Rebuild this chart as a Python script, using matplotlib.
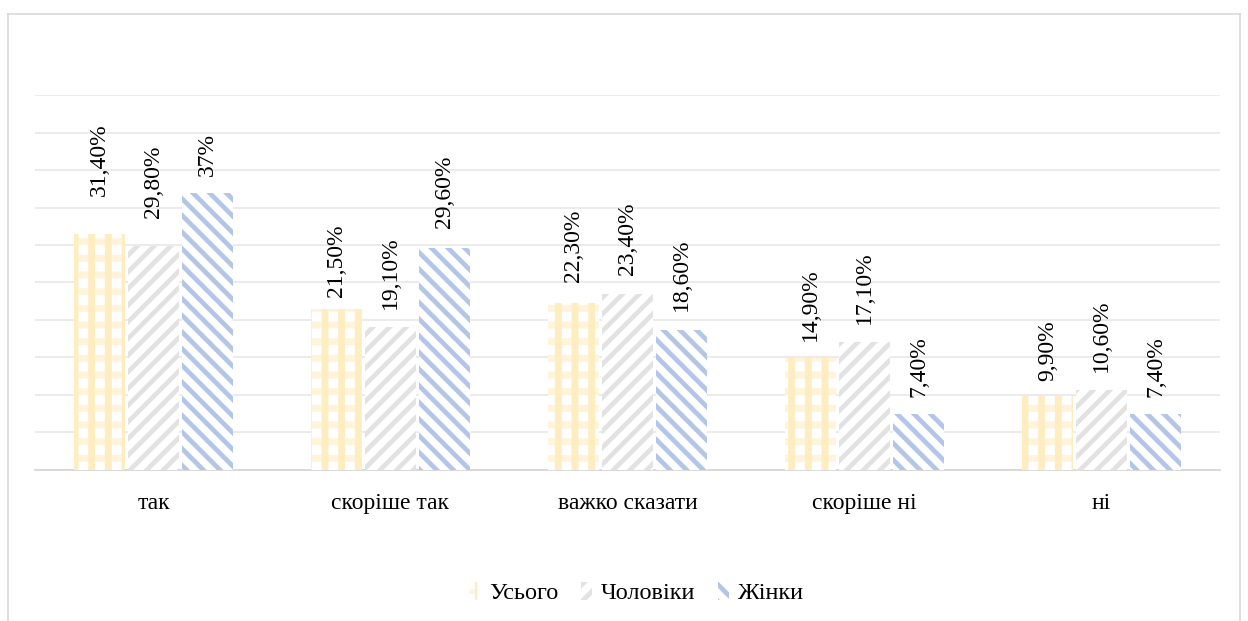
import matplotlib
matplotlib.use("Agg")
import matplotlib.pyplot as plt
import numpy as np
from matplotlib.patches import Patch
from matplotlib.legend_handler import HandlerTuple

plt.rcParams['font.family'] = ['Liberation Serif', 'DejaVu Serif']
plt.rcParams['hatch.linewidth'] = 3.4

categories = ["так", "скоріше так", "важко сказати", "скоріше ні", "ні"]
series_names = ["Усього", "Чоловіки", "Жінки"]
total = [31.4, 21.5, 22.3, 14.9, 9.9]
men = [29.8, 19.1, 23.4, 17.1, 10.6]
women = [37.0, 29.6, 18.6, 7.4, 7.4]
labels_total = ["31,40%", "21,50%", "22,30%", "14,90%", "9,90%"]
labels_men = ["29,80%", "19,10%", "23,40%", "17,10%", "10,60%"]
labels_women = ["37%", "29,60%", "18,60%", "7,40%", "7,40%"]

# extra lift (in %) of the value labels above their bars
lift_total = [5.2, 1.6, 2.8, 2.3, 2.0]
lift_men = [3.8, 2.3, 2.6, 2.3, 2.4]
lift_women = [2.2, 2.6, 2.6, 2.3, 2.3]

# each series is drawn as one or two hatched layers: (colour, hatch, hatch width)
layers = [
    [("#FFF4DA", "-", 5.0), ("#FFEDC2", "|", 5.0)],   # plaid
    [("#E2E2E2", "//", 3.4)],
    [("#B3C6E8", "\\\\", 3.4)],
]


def hatched(patch, hw):
    try:
        patch.set_hatch_linewidth(hw)
    except AttributeError:
        pass
    return patch


fig = plt.figure(figsize=(12.48, 6.21), dpi=100)
ax = fig.add_axes([0.028, 0.2432, 0.9496, 0.6038])

x = np.arange(len(categories))
w = 0.215
step = 0.228
series = [total, men, women]
labels = [labels_total, labels_men, labels_women]
lifts = [lift_total, lift_men, lift_women]
for i, (vals, labs, lft) in enumerate(zip(series, labels, lifts)):
    pos = x + (i - 1) * step
    for k, (col, h, hw) in enumerate(layers[i]):
        bars = ax.bar(pos, vals, width=w, facecolor="white" if k == 0 else "none",
                      edgecolor=col, hatch=h, linewidth=0, zorder=3 + k * 0.1)
        for b in bars:
            hatched(b, hw)
    for p, v, t, d in zip(pos, vals, labs, lft):
        ax.text(p, v + d, t, rotation=90, ha="center", va="bottom",
                fontsize=17, color="#000000", zorder=4)

ax.set_xlim(-0.5, 4.5)
ax.set_ylim(0, 50)
ax.set_yticks(np.arange(0, 51, 5))
ax.yaxis.grid(True, color="#EBEBEB", linewidth=1.4, zorder=0)
ax.tick_params(axis="y", left=False, labelleft=False)
ax.tick_params(axis="x", bottom=False, labelsize=17, pad=13)
ax.set_xticks(x)
ax.set_xticklabels(categories)
for s in ["top", "right", "left"]:
    ax.spines[s].set_visible(False)
ax.spines["bottom"].set_color("#D9D9D9")
ax.spines["bottom"].set_linewidth(1.4)
ax.set_axisbelow(True)

handles = []
for i in range(3):
    parts = tuple(hatched(Patch(facecolor="white" if k == 0 else "none", edgecolor=col,
                                hatch=h, linewidth=0), hw)
                  for k, (col, h, hw) in enumerate(layers[i]))
    handles.append(parts)
fig.legend(handles, series_names, loc="center", bbox_to_anchor=(0.51, 0.045),
           ncol=3, frameon=False, fontsize=17.5, handlelength=0.45, handleheight=0.8,
           handletextpad=0.35, columnspacing=0.95,
           handler_map={tuple: HandlerTuple(ndivide=None, pad=0)})

# outer chart frame
fig.add_artist(plt.Line2D([8 / 1248, 8 / 1248], [0, 1 - 14 / 621],
                          transform=fig.transFigure, color="#D9D9D9", lw=1.2))
fig.add_artist(plt.Line2D([8 / 1248, 1240 / 1248], [1 - 14 / 621, 1 - 14 / 621],
                          transform=fig.transFigure, color="#D9D9D9", lw=1.2))
fig.add_artist(plt.Line2D([1240 / 1248, 1240 / 1248], [0, 1 - 14 / 621],
                          transform=fig.transFigure, color="#D9D9D9", lw=1.2))

fig.savefig("out.png", dpi=100, facecolor="white")
